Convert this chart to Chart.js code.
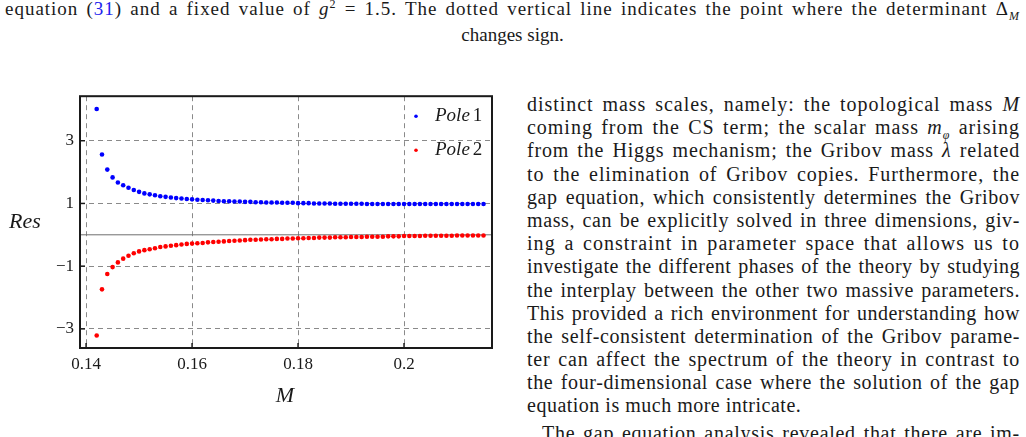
<!DOCTYPE html>
<html>
<head>
<meta charset="utf-8">
<script src="https://cdn.jsdelivr.net/npm/chart.js@4.4.1/dist/chart.umd.min.js"></script>
<style>
  html, body { margin: 0; padding: 0; background: #fff; }
  body { width: 1026px; height: 437px; overflow: hidden; position: relative;
         font-family: 'Liberation Serif', serif; color: #1a1a1a; }
  sup, sub { line-height: 0; font-size: 12px; }
  .caption { position: absolute; left: 5px; top: -3px; width: 1015px; font-size: 19px; line-height: 24px; }
  .caption .l1 { text-align: justify; text-align-last: justify; white-space: nowrap; height: 26px; }
  .caption .l2 { text-align: center; }
  .ref { color: #2222ee; }
  .col { position: absolute; left: 527px; top: 93px; width: 493px; font-size: 20px; line-height: 23.2px; }
  .col div { text-align: justify; text-align-last: justify; height: 23.2px; white-space: nowrap; }
  .col div.last { text-align-last: left; }
  .col div.indent { text-indent: 15px; margin-top: 4px; }
  #wrap { position: absolute; left: 0; top: 80px; width: 510px; height: 340px; }
</style>
</head>
<body>
<div class="caption">
  <div class="l1 fit"><span>equation (<span class="ref">31</span>) and a fixed value of <i>g</i><sup>2</sup> = 1.5. The dotted vertical line indicates the point where the determinant Δ<sub><i>M</i></sub></span></div>
  <div class="l2">changes sign.</div>
</div>

<div id="wrap"><canvas id="resChart"></canvas></div>

<div class="col">
  <div class="fit"><span>distinct mass scales, namely: the topological mass <i>M</i></span></div>
  <div class="fit"><span>coming from the CS term; the scalar mass <i>m</i><sub><i>φ</i></sub> arising</span></div>
  <div class="fit"><span>from the Higgs mechanism; the Gribov mass <i>λ</i> related</span></div>
  <div class="fit"><span>to the elimination of Gribov copies. Furthermore, the</span></div>
  <div class="fit"><span>gap equation, which consistently determines the Gribov</span></div>
  <div class="fit"><span>mass, can be explicitly solved in three dimensions, giv-</span></div>
  <div class="fit"><span>ing a constraint in parameter space that allows us to</span></div>
  <div class="fit"><span>investigate the different phases of the theory by studying</span></div>
  <div class="fit"><span>the interplay between the other two massive parameters.</span></div>
  <div class="fit"><span>This provided a rich environment for understanding how</span></div>
  <div class="fit"><span>the self-consistent determination of the Gribov parame-</span></div>
  <div class="fit"><span>ter can affect the spectrum of the theory in contrast to</span></div>
  <div class="fit"><span>the four-dimensional case where the solution of the gap</span></div>
  <div class="last"><span style="letter-spacing:0.5px">equation is much more intricate.</span></div>
  <div class="indent fit"><span>The gap equation analysis revealed that there are im-</span></div>
</div>

<script>
// M values (x axis)
const mValues = [
  0.142, 0.143, 0.144, 0.145, 0.146, 0.147, 0.148, 0.149, 0.150, 0.151,
  0.152, 0.153, 0.154, 0.155, 0.156, 0.157, 0.158, 0.159, 0.160, 0.161,
  0.162, 0.163, 0.164, 0.165, 0.166, 0.167, 0.168, 0.169, 0.170, 0.171,
  0.172, 0.173, 0.174, 0.175, 0.176, 0.177, 0.178, 0.179, 0.180, 0.181,
  0.182, 0.183, 0.184, 0.185, 0.186, 0.187, 0.188, 0.189, 0.190, 0.191,
  0.192, 0.193, 0.194, 0.195, 0.196, 0.197, 0.198, 0.199, 0.200, 0.201,
  0.202, 0.203, 0.204, 0.205, 0.206, 0.207, 0.208, 0.209, 0.210, 0.211,
  0.212, 0.213, 0.214, 0.215
];

// residue of pole 1 (blue)
const pole1 = [
  4.01, 2.56, 2.08, 1.83, 1.67, 1.58, 1.50, 1.43, 1.37, 1.32,
  1.29, 1.26, 1.23, 1.21, 1.19, 1.17, 1.16, 1.14, 1.13, 1.12,
  1.11, 1.10, 1.09, 1.08, 1.07, 1.07, 1.06, 1.06, 1.05, 1.05,
  1.04, 1.04, 1.03, 1.03, 1.03, 1.02, 1.02, 1.02, 1.01, 1.01,
  1.01, 1.00, 1.00, 1.00, 1.00, 0.99, 0.99, 0.99, 0.99, 0.99,
  0.99, 0.98, 0.98, 0.98, 0.98, 0.98, 0.98, 0.98, 0.98, 0.98,
  0.98, 0.98, 0.98, 0.98, 0.98, 0.98, 0.98, 0.98, 0.98, 0.98,
  0.98, 0.98, 0.98, 0.98
];

// residue of pole 2 (red)
const pole2 = [
  -3.21, -1.74, -1.25, -1.03, -0.88, -0.76, -0.67, -0.59, -0.53, -0.49,
  -0.46, -0.43, -0.39, -0.37, -0.35, -0.33, -0.31, -0.29, -0.28, -0.27,
  -0.26, -0.24, -0.23, -0.22, -0.21, -0.20, -0.19, -0.18, -0.17, -0.16,
  -0.16, -0.15, -0.14, -0.14, -0.13, -0.13, -0.12, -0.12, -0.11, -0.11,
  -0.10, -0.10, -0.09, -0.09, -0.09, -0.08, -0.08, -0.08, -0.07, -0.07,
  -0.07, -0.06, -0.06, -0.06, -0.06, -0.05, -0.05, -0.05, -0.04, -0.04,
  -0.04, -0.04, -0.03, -0.03, -0.03, -0.03, -0.03, -0.03, -0.02, -0.02,
  -0.02, -0.02, -0.02, -0.02
];

const xTicks = [0.14, 0.16, 0.18, 0.2];
const yTicks = [-3, -1, 1, 3];
const seriesLabels = ['Pole 1', 'Pole 2'];
const seriesColors = ['#0000ff', '#ff0000'];

const serif = "'Liberation Serif', serif";

// measure each text line unjustified, put most of the slack into letter spacing
document.querySelectorAll('.fit').forEach(line => {
  const span = line.firstElementChild;
  const full = line.clientWidth - (parseFloat(getComputedStyle(line).textIndent) || 0);
  line.style.textAlignLast = 'left';
  line.style.textAlign = 'left';
  const natural = span.getBoundingClientRect().width;
  line.style.textAlignLast = '';
  line.style.textAlign = '';
  const n = span.textContent.length;
  const ls = Math.max(-0.8, Math.min(1.4, (full - natural) / n * 0.7));
  span.style.letterSpacing = ls.toFixed(2) + 'px';
});

// frame, zero line, inward ticks, legend and axis titles
const decorPlugin = {
  id: 'decor',
  beforeDatasetsDraw(chart) {
    const { ctx, chartArea: a, scales: { y } } = chart;
    const y0 = y.getPixelForValue(0);
    ctx.save();
    ctx.strokeStyle = '#6e6e6e';
    ctx.lineWidth = 1;
    ctx.beginPath();
    ctx.moveTo(a.left, y0);
    ctx.lineTo(a.right, y0);
    ctx.stroke();
    ctx.restore();
  },
  afterDatasetsDraw(chart) {
    const { ctx, chartArea: a, scales: { x, y } } = chart;
    ctx.save();
    ctx.strokeStyle = '#1a1a1a';
    ctx.lineWidth = 1.5;
    xTicks.forEach(v => {
      const px = x.getPixelForValue(v);
      ctx.beginPath(); ctx.moveTo(px, a.bottom); ctx.lineTo(px, a.bottom - 5); ctx.stroke();
    });
    yTicks.forEach(v => {
      const py = y.getPixelForValue(v);
      ctx.beginPath(); ctx.moveTo(a.left, py); ctx.lineTo(a.left + 5, py); ctx.stroke();
    });
    ctx.lineWidth = 2;
    ctx.strokeRect(a.left, a.top, a.right - a.left, a.bottom - a.top);

    // legend
    ctx.textBaseline = 'middle';
    chart.data.datasets.forEach((ds, i) => {
      const ly = a.top + 20 + i * 34;
      ctx.fillStyle = ds.backgroundColor;
      ctx.beginPath(); ctx.arc(a.right - 76, ly, 1.8, 0, Math.PI * 2); ctx.fill();
      const parts = ds.label.split(' ');
      ctx.fillStyle = '#1a1a1a';
      ctx.textAlign = 'left';
      ctx.font = 'italic 19px ' + serif;
      ctx.fillText(parts[0], a.right - 57, ly);
      const w = ctx.measureText(parts[0]).width;
      ctx.font = '19px ' + serif;
      ctx.fillText(parts[1], a.right - 57 + w + 3, ly);
    });

    // axis titles
    ctx.font = 'italic 22px ' + serif;
    ctx.textAlign = 'center';
    ctx.fillText('Res', 25, (a.top + a.bottom) / 2);
    ctx.fillText('M', (a.left + a.right) / 2 - 1, a.bottom + 48);
    ctx.restore();
  }
};

const ctx = document.getElementById('resChart').getContext('2d');

new Chart(ctx, {
  type: 'scatter',
  data: {
    datasets: [
      {
        label: seriesLabels[0],
        data: mValues.map((m, i) => ({ x: m, y: pole1[i] })),
        backgroundColor: seriesColors[0],
        borderWidth: 0,
        pointRadius: 2.3
      },
      {
        label: seriesLabels[1],
        data: mValues.map((m, i) => ({ x: m, y: pole2[i] })),
        backgroundColor: seriesColors[1],
        borderWidth: 0,
        pointRadius: 2.3
      }
    ]
  },
  options: {
    responsive: true,
    maintainAspectRatio: false,
    animation: false,
    layout: { padding: { top: 14, right: 18, left: 0, bottom: 0 } },
    plugins: {
      legend: { display: false },
      tooltip: { enabled: false }
    },
    scales: {
      x: {
        type: 'linear',
        min: 0.13885,
        max: 0.2166,
        afterBuildTicks: scale => { scale.ticks = xTicks.map(v => ({ value: v })); },
        afterFit: scale => { scale.height = 72; },
        ticks: {
          autoSkip: false,
          maxRotation: 0,
          padding: 6,
          color: '#1a1a1a',
          font: { family: serif, size: 17 },
          callback: v => String(v)
        },
        grid: { color: '#8a8a8a', lineWidth: 1, drawTicks: false },
        border: { display: false, dash: [5, 4] }
      },
      y: {
        type: 'linear',
        min: -3.61,
        max: 4.42,
        afterBuildTicks: scale => { scale.ticks = yTicks.map(v => ({ value: v })); },
        afterFit: scale => { scale.width = 80; },
        ticks: {
          autoSkip: false,
          padding: 6,
          color: '#1a1a1a',
          font: { family: serif, size: 17 },
          callback: v => (v < 0 ? '\u2212' + Math.abs(v) : String(v))
        },
        grid: { color: '#8a8a8a', lineWidth: 1, drawTicks: false },
        border: { display: false, dash: [5, 4] }
      }
    }
  },
  plugins: [decorPlugin]
});
</script>
</body>
</html>
